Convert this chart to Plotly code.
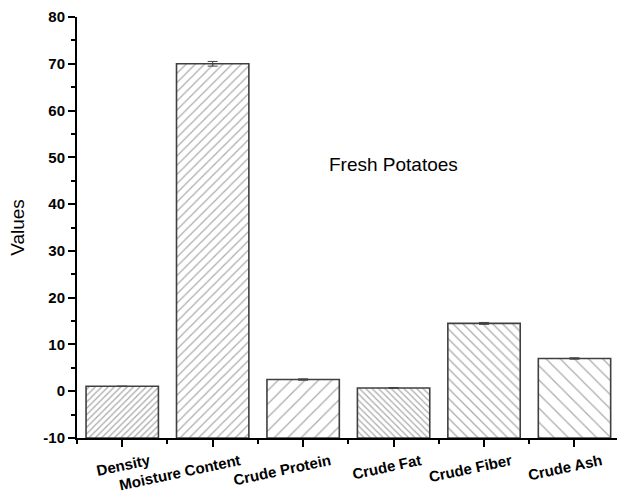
import plotly.graph_objects as go

categories = ["Density", "Moisture Content", "Crude Protein", "Crude Fat", "Crude Fiber", "Crude Ash"]
values = [1.05, 70.0, 2.5, 0.7, 14.5, 7.0]
errors = [0.05, 0.5, 0.15, 0.1, 0.2, 0.15]
hatch_shapes = ["/", "/", "/", "\\", "\\", "\\"]
hatch_sizes = [4.5, 6.5, 9.5, 4.5, 7, 10]

y_floor = -10  # bars rise from the bottom of the value axis
x_pos = list(range(len(categories)))
bar_heights = [v - y_floor for v in values]

fig = go.Figure()
fig.add_trace(go.Bar(
    x=x_pos,
    y=bar_heights,
    base=y_floor,
    width=0.8,
    error_y=dict(type="data", array=errors, visible=True, color="#444444", thickness=1, width=5),
    marker=dict(
        color="white",
        line=dict(color="#404040", width=1.6),
        pattern=dict(shape=hatch_shapes, size=hatch_sizes,
                     solidity=[1.3 / s for s in hatch_sizes],
                     fgcolor="#5a5a5a", bgcolor="white", fillmode="overlay"),
    ),
    showlegend=False,
))

fig.add_annotation(x=3.0, y=48.4, xref="x", yref="y", text="Fresh Potatoes",
                   showarrow=False, font=dict(family="Arial", size=19, color="black"))

fig.update_layout(
    width=617, height=496,
    margin=dict(l=77, r=0, t=17, b=58),
    paper_bgcolor="white", plot_bgcolor="white",
    font=dict(family="Arial", color="black"),
)
fig.update_xaxes(
    range=[-0.5, 5.47],
    automargin=False,
    tickvals=x_pos,
    ticktext=["<b>%s</b>" % c for c in categories],
    tickangle=-12,
    ticklabelshift=27,
    ticklabelstandoff=0,
    tickfont=dict(family="Arial", size=15, color="black"),
    showline=True, linecolor="black", linewidth=2,
    ticks="outside", ticklen=7, tickwidth=1.5, tickcolor="black",
    minor=dict(tickvals=[i - 0.5 for i in range(7)], ticks="outside", ticklen=4,
               tickwidth=1.5, tickcolor="black"),
    showgrid=False, zeroline=False,
)
fig.update_yaxes(
    range=[-10, 80],
    automargin=False,
    tickvals=list(range(-10, 81, 10)),
    ticktext=["<b>%d</b>" % v for v in range(-10, 81, 10)],
    tickfont=dict(family="Arial", size=15, color="black"),
    showline=True, linecolor="black", linewidth=2,
    ticks="outside", ticklen=7, tickwidth=1.5, tickcolor="black",
    minor=dict(dtick=5, tick0=0, ticks="outside", ticklen=4, tickwidth=1.5, tickcolor="black"),
    title=dict(text="Values", font=dict(family="Arial", size=19, color="black"), standoff=14),
    showgrid=False, zeroline=False,
)

fig.write_html("out.html")
